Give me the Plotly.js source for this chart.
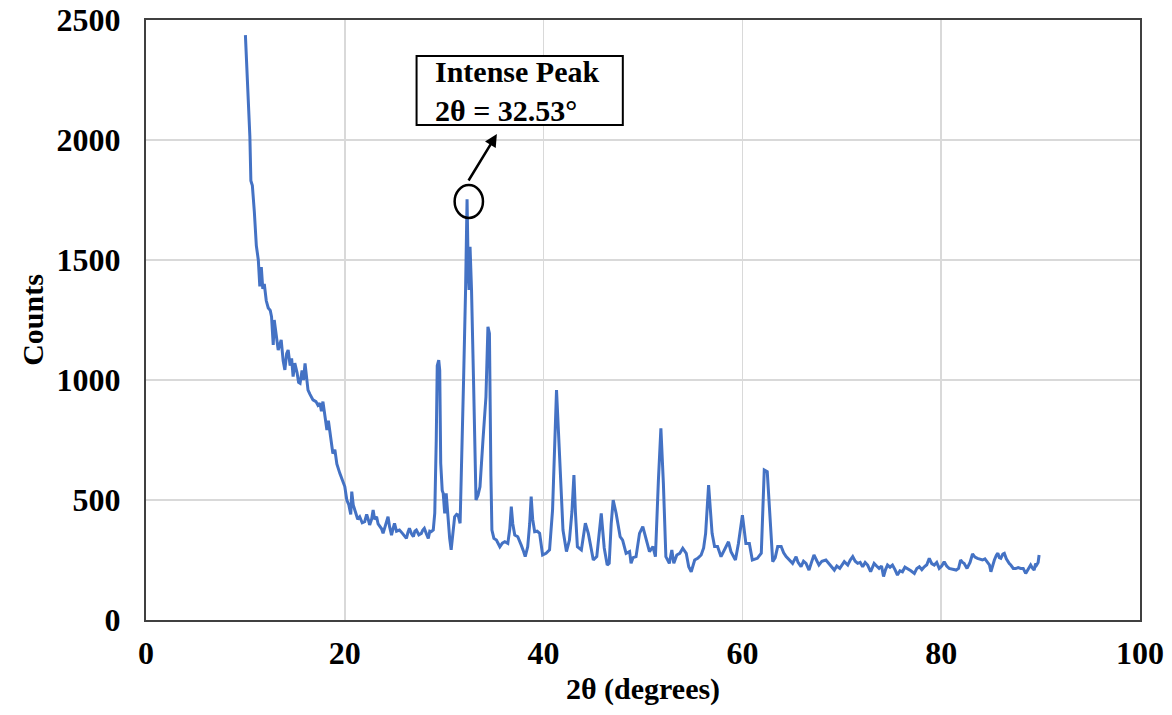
<!DOCTYPE html>
<html>
<head>
<meta charset="utf-8">
<script src="https://cdn.plot.ly/plotly-3.0.1.min.js"></script>
<style>html,body{margin:0;padding:0;background:#fff;}#chart{width:1172px;height:715px;}</style>
</head>
<body>
<div id="chart"></div>
<script>
const twoTheta = [
10.0,10.2,10.45,10.55,10.7,10.9,11.1,11.3,11.45,11.6,11.75,11.9,12.1,12.3,12.5,12.63,12.8,12.9,13.1,13.3,
13.6,13.8,13.97,14.15,14.3,14.5,14.65,14.8,14.97,15.2,15.35,15.5,15.7,15.85,16.0,16.15,16.3,16.5,16.8,17.1,
17.3,17.5,17.65,17.8,18.0,18.2,18.35,18.5,18.65,18.8,19.0,19.2,19.5,19.75,20.0,20.2,20.4,20.6,20.7,20.85,
21.1,21.3,21.5,21.75,22.0,22.2,22.35,22.5,22.7,22.85,23.0,23.2,23.35,23.5,23.7,23.85,24.1,24.35,24.5,24.7,
24.85,25.0,25.2,25.5,25.8,26.0,26.2,26.35,26.5,26.7,26.9,27.05,27.2,27.45,27.7,27.85,28.0,28.2,28.4,28.55,
28.7,28.9,29.05,29.2,29.3,29.45,29.55,29.65,29.8,29.9,30.05,30.2,30.4,30.55,30.7,30.9,31.05,31.25,31.4,31.6,
31.8,31.95,32.15,32.3,32.42,32.5,32.6,32.75,32.95,33.1,33.2,33.4,33.6,33.9,34.2,34.4,34.55,34.7,34.8,35.0,
35.25,35.6,35.85,36.1,36.4,36.6,36.75,36.9,37.1,37.4,37.6,37.75,37.95,38.15,38.4,38.6,38.75,38.9,39.1,39.35,
39.6,39.9,40.25,40.6,40.9,41.1,41.3,41.5,41.7,41.95,42.3,42.6,42.85,43.05,43.2,43.4,43.8,44.2,44.5,44.75,
45.0,45.35,45.6,45.8,46.1,46.4,46.6,46.8,47.0,47.3,47.7,47.95,48.3,48.65,48.8,49.0,49.3,49.65,49.98,50.3,
50.65,51.0,51.25,51.55,51.8,52.05,52.3,52.65,52.9,53.1,53.4,53.7,54.0,54.35,54.6,54.85,55.2,55.5,55.85,56.1,
56.3,56.6,56.95,57.2,57.5,57.85,58.2,58.6,58.85,59.3,59.6,60.0,60.35,60.7,61.0,61.5,61.9,62.05,62.2,62.5,
62.8,63.05,63.3,63.55,63.9,64.15,64.4,64.7,65.05,65.4,65.6,65.9,66.15,66.4,66.7,66.95,67.2,67.45,67.7,68.0,
68.4,68.8,69.25,69.5,69.8,70.25,70.6,70.85,71.1,71.35,71.6,71.85,72.1,72.35,72.6,72.9,73.25,73.5,73.75,74.0,
74.2,74.4,74.6,74.85,75.1,75.35,75.6,75.85,76.1,76.35,76.6,76.95,77.3,77.55,77.8,78.05,78.3,78.55,78.8,79.05,
79.3,79.55,79.8,80.05,80.3,80.55,80.8,81.15,81.5,81.75,81.95,82.15,82.3,82.6,82.9,83.15,83.4,83.65,83.9,84.15,
84.4,84.65,84.85,85.0,85.2,85.35,85.55,85.7,85.85,86.0,86.2,86.35,86.55,86.7,86.85,87.0,87.25,87.5,87.75,88.0,
88.25,88.5,88.75,89.0,89.2,89.35,89.5,89.6,89.75,89.85
];
const counts = [
2437,2250,2014,1830,1810,1700,1560,1500,1390,1470,1380,1400,1330,1300,1290,1264,1146,1250,1180,1125,
1167,1080,1042,1110,1125,1060,1090,1014,1070,1030,990,986,1040,1000,1069,1010,958,940,917,910,
895,903,870,910,860,792,830,785,760,694,710,650,611,580,556,500,480,440,535,479,
450,420,430,405,410,440,420,396,420,458,420,430,400,389,380,361,395,430,390,354,
380,403,370,375,361,350,340,365,382,360,347,370,375,355,361,375,382,360,340,370,
368,375,445,750,1060,1083,1040,653,540,528,444,528,403,340,292,380,430,440,437,403,
700,1000,1375,1753,1450,1375,1555,1375,1000,700,500,520,555,750,930,1222,1194,600,375,340,
333,305,320,326,319,380,472,400,354,347,330,312,290,264,305,400,514,420,368,370,
361,271,278,292,458,700,958,780,597,375,285,333,450,604,450,305,292,403,361,300,
250,264,350,444,300,229,236,400,500,444,347,333,278,285,236,260,264,361,389,333,
285,306,264,583,799,569,264,236,292,236,271,278,299,278,222,201,250,257,271,300,
361,562,361,306,306,264,292,326,285,250,319,437,319,319,250,257,278,450,625,618,
403,243,260,306,306,280,264,250,236,264,240,222,245,236,208,240,271,250,229,245,
250,230,208,225,215,243,229,250,264,245,236,240,222,240,229,201,236,225,215,225,
181,210,229,220,229,210,187,205,201,220,215,205,194,215,222,210,222,230,257,235,
229,240,215,225,243,225,215,212,208,215,250,240,236,215,240,275,262,257,255,250,
255,243,230,201,235,250,270,278,260,257,275,278,255,243,235,229,215,215,218,215,
215,194,210,229,215,208,235,229,240,271
];
const xTicks = [0,20,40,60,80,100];
const yTicks = [0,500,1000,1500,2000,2500];
const peakLabel = 'Intense Peak<br>2θ = 32.53°';

const serif = '"Liberation Serif", "Times New Roman", serif';
const trace = {
  x: twoTheta, y: counts, type: 'scatter', mode: 'lines',
  line: {color: '#4472C4', width: 3}, hoverinfo: 'skip', showlegend: false
};
const layout = {
  width: 1172, height: 715,
  margin: {l: 146, r: 32, t: 20, b: 95},
  paper_bgcolor: '#ffffff', plot_bgcolor: '#ffffff',
  showlegend: false,
  xaxis: {
    range: [0, 100], tickvals: xTicks, ticktext: xTicks.map(String),
    showgrid: true, gridcolor: '#d9d9d9', gridwidth: 1.5, zeroline: false,
    showline: true, mirror: true, linecolor: '#404040', linewidth: 2,
    ticks: '', ticklabelstandoff: 4,
    tickfont: {family: serif, size: 32, color: '#000', weight: 'bold'},
    title: {text: '2θ (degrees)', font: {family: serif, size: 30, color: '#000', weight: 'bold'}, standoff: 8}
  },
  yaxis: {
    range: [0, 2500], tickvals: yTicks, ticktext: yTicks.map(String),
    showgrid: true, gridcolor: '#d9d9d9', gridwidth: 1.5, zeroline: false,
    showline: true, mirror: true, linecolor: '#404040', linewidth: 2,
    ticks: '', ticklabelstandoff: 17,
    tickfont: {family: serif, size: 32, color: '#000', weight: 'bold'},
    title: {text: 'Counts', font: {family: serif, size: 30, color: '#000', weight: 'bold'}, standoff: 4}
  },
  shapes: [
    {type: 'rect', xref: 'x', yref: 'y', x0: 27.22, x1: 47.97, y0: 2062, y1: 2350,
     line: {color: '#000', width: 2}, fillcolor: '#ffffff', layer: 'above'},
    {type: 'circle', xref: 'x', yref: 'y', x0: 31.05, x1: 33.9, y0: 1675, y1: 1812,
     line: {color: '#000', width: 2.5}, fillcolor: 'rgba(0,0,0,0)'}
  ],
  annotations: [
    {x: 28.9, y: 2206, xref: 'x', yref: 'y', text: peakLabel, showarrow: false,
     xanchor: 'left', yanchor: 'middle', align: 'left',
     font: {family: serif, size: 30, color: '#000', weight: 'bold'}},
    {x: 35.3, y: 2025, ax: 32.36, ay: 1825, xref: 'x', yref: 'y', axref: 'x', ayref: 'y',
     text: '', showarrow: true, arrowhead: 2, arrowsize: 1, arrowwidth: 2.5, arrowcolor: '#000'}
  ]
};
Plotly.newPlot('chart', [trace], layout, {staticPlot: true, displayModeBar: false});
</script>
</body>
</html>
